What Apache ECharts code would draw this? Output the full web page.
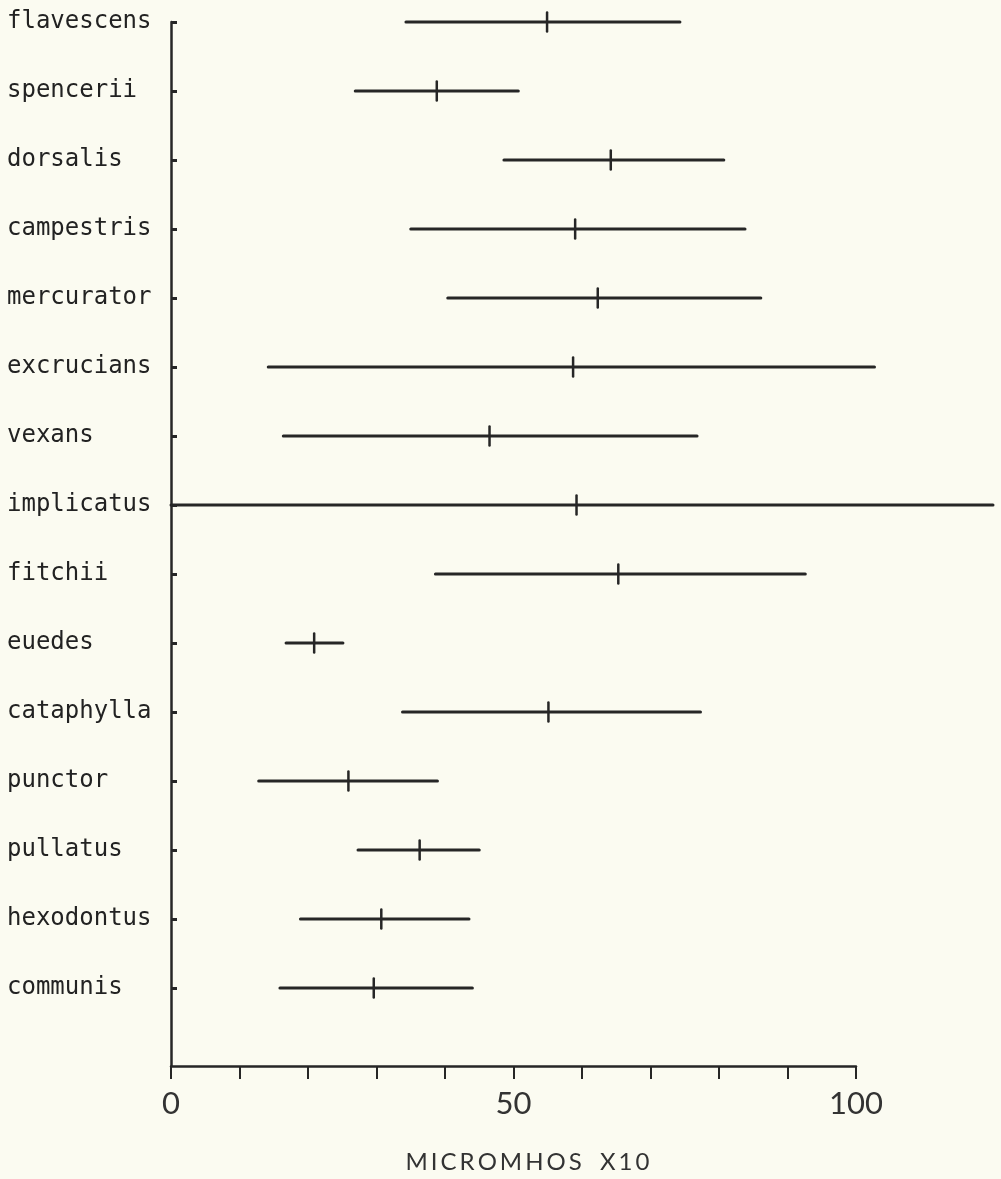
<!DOCTYPE html>
<html>
<head>
<meta charset="utf-8">
<script src="https://cdn.jsdelivr.net/npm/echarts@6.0.0/dist/echarts.min.js"></script>
<style>
  html, body { margin: 0; padding: 0; background: #fbfbf1; }
  #chart { width: 1001px; height: 1179px; }
</style>
</head>
<body>
<div id="chart"></div>
<script>
// species, top to bottom
const species = ['flavescens', 'spencerii', 'dorsalis', 'campestris', 'mercurator',
  'excrucians', 'vexans', 'implicatus', 'fitchii', 'euedes', 'cataphylla',
  'punctor', 'pullatus', 'hexodontus', 'communis'];
// range and mean, micromhos x10
const lowVals = [34.3, 26.9, 48.6, 35.0, 40.4, 14.2, 16.4, 0, 38.6, 16.8, 33.8, 12.8, 27.3, 18.9, 15.9];
const meanVals = [54.9, 38.8, 64.2, 59.0, 62.3, 58.7, 46.5, 59.2, 65.3, 20.9, 55.1, 25.9, 36.3, 30.7, 29.6];
const highVals = [74.3, 50.7, 80.7, 83.8, 86.1, 102.7, 76.8, 120, 92.6, 25.1, 77.3, 38.9, 45.0, 43.5, 44.0];
const xLabels = [0, 50, 100];

const ink = '#262626';
const rows = species.map((s, i) => [i, lowVals[i], meanVals[i], highVals[i]]);
const rowIdx = species.map((s, i) => i);

const chart = echarts.init(document.getElementById('chart'));
chart.setOption({
  backgroundColor: '#fbfbf1',
  animation: false,
  grid: {
    left: 171,
    right: 145,
    top: 22,
    bottom: 106
  },
  xAxis: {
    type: 'value',
    position: 'bottom',
    min: 0,
    max: 100,
    interval: 10,
    name: 'M\u2009I\u2009C\u2009R\u2009O\u2009M\u2009H\u2009O\u2009S\u2009 \u2009 X\u20091\u20090',
    nameLocation: 'middle',
    nameGap: 84,
    nameTextStyle: {
      color: '#333',
      fontSize: 24,
      fontFamily: 'Lato',
      padding: [0, 0, 0, 28]
    },
    axisLine: { show: true, onZero: false, lineStyle: { color: ink, width: 2.5 } },
    axisTick: { show: true, length: 13, lineStyle: { color: ink, width: 2 } },
    axisLabel: {
      customValues: xLabels,
      margin: 22,
      color: '#333',
      fontSize: 31,
      fontFamily: 'Lato'
    },
    splitLine: { show: false }
  },
  yAxis: {
    type: 'value',
    inverse: true,
    min: 0,
    max: 15.13,
    axisLine: { show: true, onZero: false, lineStyle: { color: ink, width: 2.5 } },
    axisTick: {
      show: true,
      inside: true,
      length: 6,
      customValues: rowIdx,
      lineStyle: { color: ink, width: 3 }
    },
    axisLabel: {
      customValues: rowIdx,
      align: 'left',
      margin: 164,
      padding: [0, 0, 23, 0],
      color: '#222',
      fontSize: 24,
      fontFamily: 'DejaVu Sans Mono',
      formatter: (v) => species[Math.round(v)] || ''
    },
    splitLine: { show: false }
  },
  series: [{
    type: 'custom',
    clip: false,
    data: rows,
    encode: { x: [1, 2, 3], y: 0 },
    renderItem: (params, api) => {
      const y = api.value(0);
      const a = api.coord([api.value(1), y]);
      const m = api.coord([api.value(2), y]);
      const b = api.coord([api.value(3), y]);
      return {
        type: 'group',
        children: [{
          type: 'line',
          shape: { x1: a[0], y1: a[1], x2: b[0], y2: b[1] },
          style: { stroke: ink, lineWidth: 3, lineCap: 'round' }
        }, {
          type: 'line',
          shape: { x1: m[0], y1: m[1] - 9.5, x2: m[0], y2: m[1] + 9.5 },
          style: { stroke: ink, lineWidth: 2.5, lineCap: 'round' }
        }]
      };
    }
  }]
});
</script>
</body>
</html>
